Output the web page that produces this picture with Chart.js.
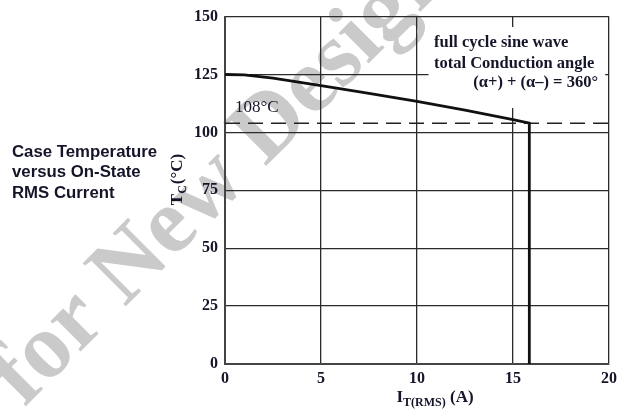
<!DOCTYPE html>
<html>
<head>
<meta charset="utf-8">
<script src="https://cdn.jsdelivr.net/npm/chart.js@4.4.1/dist/chart.umd.min.js"></script>
<style>
  html, body { margin: 0; padding: 0; background: #fff; }
</style>
</head>
<body>
<canvas id="chart" width="640" height="412"></canvas>
<script>
// data
const currentA = [0, 1, 2.5, 5, 7.5, 10, 12.5, 15, 15.85, 15.85];
const caseTempC = [125, 124.8, 123.4, 120.2, 116.8, 113.4, 109.6, 105.5, 104, 0];
const limitLineX = [0, 20];
const limitLineY = [104, 104];
const captionLines = ["Case Temperature", "versus On-State", "RMS Current"];
const noteLines = ["full cycle sine wave", "total Conduction angle", "(\u03b1+) + (\u03b1\u2013) = 360\u00b0"];

const serif = '"Liberation Serif", "Times New Roman", serif';
const ink = '#15152a';

const ctx = document.getElementById('chart').getContext('2d');

// watermark + left caption, drawn under everything
const backdrop = {
  id: 'backdrop',
  beforeDraw(chart) {
    const c = chart.ctx;
    c.save();
    c.fillStyle = '#fff';
    c.fillRect(0, 0, chart.width, chart.height);
    c.translate(24, 408);
    c.rotate(-Math.PI / 4);
    c.fillStyle = '#cacaca';
    c.font = 'bold 93px ' + serif;
    c.textBaseline = 'alphabetic';
    c.fillText('for New Design', 0, 0);
    c.restore();

    c.save();
    c.fillStyle = ink;
    c.font = 'bold 16.8px "Liberation Sans", Arial, sans-serif';
    c.textBaseline = 'middle';
    captionLines.forEach((t, i) => c.fillText(t, 12, 152 + i * 20.5));
    c.restore();
  }
};

// note box over the grid, curve drawn after it
const note = {
  id: 'note',
  beforeDatasetsDraw(chart) {
    const c = chart.ctx;
    const x = chart.scales.x, y = chart.scales.y;
    c.save();
    c.fillStyle = '#fff';
    const l = x.getPixelForValue(10.6), r = x.getPixelForValue(19.8);
    const t = y.getPixelForValue(145.5), b = y.getPixelForValue(110.5);
    c.fillRect(l, t, r - l, b - t);
    c.fillStyle = ink;
    c.font = 'bold 16.5px ' + serif;
    c.textBaseline = 'middle';
    c.textAlign = 'left';
    c.fillText(noteLines[0], 434, 43);
    c.fillText(noteLines[1], 434, 64);
    c.textAlign = 'right';
    c.fillText(noteLines[2], 598, 83);
    c.textAlign = 'left';
    c.font = '17px ' + serif;
    c.fillText('108\u00b0C', 235, 108);
    c.restore();
  }
};

// axis titles with subscripts
const titles = {
  id: 'titles',
  afterDraw(chart) {
    const c = chart.ctx;
    c.save();
    c.fillStyle = ink;
    c.textBaseline = 'alphabetic';
    const big = 'bold 17px ' + serif, small = 'bold 12px ' + serif;

    // x title: I T(RMS) (A)
    c.font = big; const w1 = c.measureText('I').width;
    c.font = small; const w2 = c.measureText('T(RMS)').width;
    c.font = big; const w3 = c.measureText(' (A)').width;
    let px = 435 - (w1 + w2 + w3) / 2;
    c.font = big; c.fillText('I', px, 402); px += w1;
    c.font = small; c.fillText('T(RMS)', px, 406); px += w2;
    c.font = big; c.fillText(' (A)', px, 402);

    // y title: T C (°C), rotated
    c.translate(182, 180);
    c.rotate(-Math.PI / 2);
    c.font = big; const a1 = c.measureText('T').width;
    c.font = small; const a2 = c.measureText('C').width;
    c.font = big; const a3 = c.measureText('(\u00b0C)').width;
    let py = -(a1 + a2 + a3) / 2;
    c.font = big; c.fillText('T', py, 0); py += a1;
    c.font = small; c.fillText('C', py, 4); py += a2 + 1;
    c.font = big; c.fillText('(\u00b0C)', py, 0);
    c.restore();
  }
};

const tickFont = { family: serif, size: 16, weight: 'bold' };

new Chart(ctx, {
  type: 'scatter',
  data: {
    datasets: [
      {
        label: 'Tc',
        data: currentA.map((v, i) => ({ x: v, y: caseTempC[i] })),
        showLine: true,
        borderColor: '#111',
        borderWidth: 2.8,
        pointRadius: 0,
        tension: 0
      },
      {
        label: 'limit',
        data: limitLineX.map((v, i) => ({ x: v, y: limitLineY[i] })),
        showLine: true,
        borderColor: '#222',
        borderWidth: 1.5,
        borderDash: [15, 8],
        pointRadius: 0
      }
    ]
  },
  options: {
    responsive: false,
    animation: false,
    devicePixelRatio: 1,
    layout: { padding: { top: 15, right: 31, bottom: 0, left: 0 } },
    plugins: { legend: { display: false }, tooltip: { enabled: false } },
    scales: {
      x: {
        type: 'linear',
        min: 0, max: 20,
        afterFit(scale) { scale.height = 48; },
        ticks: { stepSize: 5, color: ink, font: tickFont, padding: 5, maxRotation: 0 },
        grid: { color: '#2b2b2b', lineWidth: 1.3, drawTicks: false },
        border: { color: '#444', width: 2 }
      },
      y: {
        type: 'linear',
        min: 0, max: 150,
        afterFit(scale) { scale.width = 225; },
        ticks: { stepSize: 25, color: ink, font: tickFont, padding: 7 },
        grid: { color: '#2b2b2b', lineWidth: 1.3, drawTicks: false },
        border: { color: '#444', width: 2 }
      }
    }
  },
  plugins: [backdrop, note, titles]
});
</script>
</body>
</html>
